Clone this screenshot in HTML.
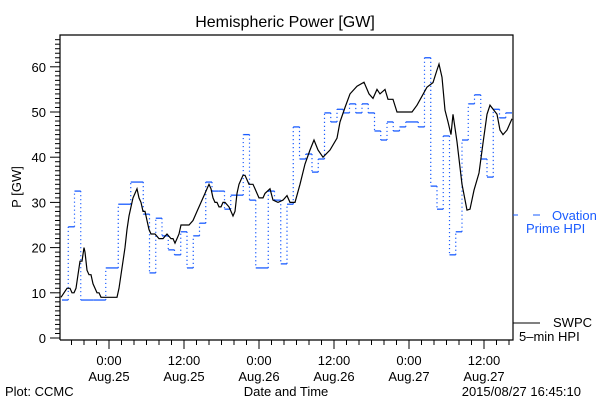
<!DOCTYPE html>
<html><head><meta charset="utf-8"><style>
html,body{margin:0;padding:0;background:#fff;}
svg{display:block;font-family:"Liberation Sans",sans-serif;}
</style></head><body>
<svg id="chart" width="600" height="400" viewBox="0 0 600 400" xmlns="http://www.w3.org/2000/svg">
<rect width="600" height="400" fill="#fff"/>
<text x="285" y="27" font-size="16" text-anchor="middle">Hemispheric Power [GW]</text>
<text x="0" y="0" font-size="13" text-anchor="middle" transform="translate(21,187) rotate(-90)">P [GW]</text>
<g id="axes"></g>
<g id="series"></g>
<g>
<line x1="513" y1="215" x2="518" y2="215" stroke="#1a5cff" stroke-width="1"/>
<line x1="533" y1="215" x2="540" y2="215" stroke="#1a5cff" stroke-width="1"/>
<text x="552" y="220" font-size="13" fill="#1a5cff">Ovation</text>
<text x="526" y="233" font-size="13" fill="#1a5cff">Prime HPI</text>
</g>
<g>
<line x1="513" y1="323" x2="540" y2="323" stroke="#000" stroke-width="1"/>
<text x="553" y="327" font-size="13">SWPC</text>
<text x="519" y="341" font-size="13">5–min HPI</text>
</g>
<text x="286" y="396" font-size="13" text-anchor="middle">Date and Time</text>
<text x="5" y="396" font-size="13">Plot: CCMC</text>
<text x="581" y="396" font-size="13" text-anchor="end">2015/08/27 16:45:10</text>
</svg>
<script>
const yTicks = [0,10,20,30,40,50,60];
const xTickHours = [0,12,24,36,48,60];
const xTickTimes = ["0:00","12:00","0:00","12:00","0:00","12:00"];
const xTickDates = ["Aug.25","Aug.25","Aug.26","Aug.26","Aug.27","Aug.27"];
const blueStartHour = -7.52;
const blueValues = [8.4,24.6,32.5,8.4,8.4,8.4,8.4,15.5,15.5,29.6,29.6,34.5,34.5,27.4,14.4,26.5,22.6,19.5,18.4,23.5,15.5,22.6,25.4,34.5,32.5,32.5,28.5,31.6,31.6,45,30.5,15.5,15.5,32.5,30.5,16.4,29.6,46.7,39.6,40.7,36.7,39.6,49.8,47.8,50.6,49.8,51.8,49.8,51.8,49.8,45.8,43.8,47.8,45.8,46.7,47.8,47.8,46.7,62,33.6,28.5,44.7,18.4,23.5,43.8,51.8,53.8,39.6,35.6,50.6,48.7,49.8];
const blackHours = [-7.68,-7.2,-6.72,-6.24,-5.92,-5.6,-5.28,-4.96,-4.64,-4.32,-4,-3.84,-3.52,-3.2,-2.88,-2.56,-2.24,-1.92,-1.6,-1.28,-0.64,0.16,0.8,1.28,1.6,1.92,2.24,2.56,2.88,3.2,3.52,3.84,4.16,4.48,4.8,5.12,5.44,5.76,6.08,6.4,6.72,7.36,8,8.64,9.28,9.92,10.24,10.56,10.88,11.2,11.52,12.16,12.8,13.44,14.08,14.72,15.36,15.68,16,16.32,16.64,16.96,17.28,17.6,17.92,18.24,18.56,19.2,19.52,19.84,20.16,20.48,20.8,21.12,21.44,21.76,22.4,23.04,23.36,23.68,24,24.32,24.64,24.96,25.76,26.24,27.04,27.84,28.48,28.96,29.76,30.56,31.36,32.16,32.8,33.44,34.24,35.36,36.48,36.96,37.76,38.56,39.68,40.8,41.6,42.24,42.88,43.36,44.16,44.64,45.44,46.08,47.04,48.48,49.28,50.08,50.88,51.84,52.48,52.8,53.28,53.76,54.24,54.72,55.04,55.68,56.48,57.28,57.76,58.4,59.2,59.84,60.48,60.96,62.08,62.56,63.04,63.68,64.48];
const blackValues = [9,10,11,11,10,10,11,14,17,17,20,19,15,14,14,12,11,10,10,9,9,9,9,9,11,14,17,20,24,27,29,31,32,33,31,30,28,28,26,24,23,23,22,22,23,22,22,21,22,23,25,25,25,26,28,30,32,33,34,33,31,30,30,29,29,30,30,29,28,27,28,32,34,35,36,36,34,34,33,32,31,31,31,32,33,30.5,30,30.5,31.5,30,30,34,38.5,41.6,43.8,41.6,40,41.6,44.2,47.8,51,54,55.7,56.6,54,53,55,54,55,52.8,52.8,50,50,50,51.5,53.5,55.5,56.5,59.3,60.6,57.7,50.4,47.8,45,49.5,43.4,34,28.3,28.5,32.7,36.5,43.1,49.5,51.5,49.5,46,45,46,48.5];

const NS = "http://www.w3.org/2000/svg";
const L = 60, R = 513, T = 35, B = 340;
const xMin = -7.84, xMax = 64.64;
function xs(h){ return L + (h - xMin) / (xMax - xMin) * (R - L); }
function ys(v){ return 338 - v * 4.52; }
function mk(tag, attrs, parent){ const e = document.createElementNS(NS, tag); for (const k in attrs) e.setAttribute(k, attrs[k]); parent.appendChild(e); return e; }

const axes = document.getElementById('axes');
const frame = mk('path', {d:`M${L},${B} L${L},${T} L${R},${T} L${R},${B} L${L},${B}`, fill:'none', stroke:'#000', 'stroke-width':1.2}, axes);


for (let v = 0; v <= 66; v++) {
  const y = ys(v); const major = v % 10 === 0;
  mk('line', {x1: major ? L-10 : L-5, y1:y, x2:L, y2:y, stroke:'#000', 'stroke-width':1}, axes);
}
yTicks.forEach(v => {
  const t = mk('text', {x: L-14, y: ys(v)+5, 'font-size':13, 'text-anchor':'end'}, axes);
  t.textContent = v;
  
  
});
for (let h = -6; h <= 64; h += 2) {
  const x = xs(h); const major = h % 12 === 0;
  mk('line', {x1:x, y1:B, x2:x, y2: major ? B+9 : B+5, stroke:'#000', 'stroke-width':1}, axes);
}
xTickHours.forEach((h, i) => {
  const t1 = mk('text', {x: xs(h), y: 365, 'font-size':13, 'text-anchor':'middle'}, axes);
  t1.textContent = xTickTimes[i];
  
  
  const t2 = mk('text', {x: xs(h), y: 381, 'font-size':13, 'text-anchor':'middle'}, axes);
  t2.textContent = xTickDates[i];
  
  
});

const series = document.getElementById('series');
// Ovation blue steps
for (let i = 0; i < blueValues.length; i++) {
  const h0 = blueStartHour + i, h1 = Math.min(h0 + 1, xMax - 0.1);
  const seg = mk('line', {x1: xs(h0), y1: ys(blueValues[i]), x2: xs(h1), y2: ys(blueValues[i]), stroke:'#1a5cff', 'stroke-width':1.3}, series);
  
  
  if (i > 0 && blueValues[i] !== blueValues[i-1]) {
    const vl = mk('line', {x1: xs(h0), y1: ys(blueValues[i-1]), x2: xs(h0), y2: ys(blueValues[i]), stroke:'#1a5cff', 'stroke-width':1.2, 'stroke-dasharray':'1.2,2.8'}, series);
    
    
  }
}
// SWPC black line
let d = '';
blackHours.forEach((h, i) => { d += (i ? ' L' : 'M') + xs(h).toFixed(1) + ',' + ys(blackValues[i]).toFixed(1); });
const line = mk('path', {d, fill:'none', stroke:'#000', 'stroke-width':1.2}, series);


</script>
</body></html>
